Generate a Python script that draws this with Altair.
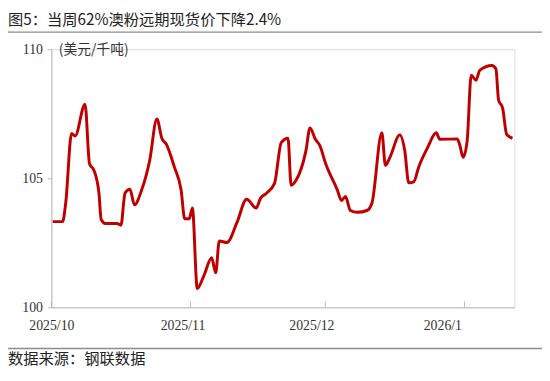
import altair as alt
import pandas as pd

# Day offsets from 2025-10-01 and price values (USD / kt)
day_offsets = [0.3, 2.5, 3.2, 4.5, 5.3, 7.5, 8.5, 9.5, 10.6, 11.1, 12.0, 14.6, 15.5,
               16.4, 17.5, 18.5, 20.1, 21.9, 23.5, 24.6, 25.6, 27.4, 28.9, 29.7, 30.7,
               31.4, 32.5, 34.0, 35.7, 36.6, 37.4, 39.1, 41.3, 43.5, 45.6, 46.6, 47.9,
               49.7, 51.2, 52.7, 53.4, 54.5, 56.7, 57.6, 58.8, 59.8, 61.1, 63.7, 64.6,
               65.5, 66.6, 68.1, 70.3, 71.4, 73.6, 74.4, 75.4, 77.6, 78.7, 79.6, 80.7,
               81.8, 83.8, 85.7, 86.5, 90.4, 91.0, 91.7, 92.6, 93.5, 94.6, 95.4, 98.1,
               99.0, 99.6, 100.5, 101.4, 102.7]
prices = [103.32, 103.32, 104.04, 106.73, 106.64, 107.87, 105.56, 105.30, 104.42, 103.40,
          103.25, 103.25, 103.18, 104.42, 104.57, 103.97, 104.54, 105.69, 107.30, 106.55,
          106.32, 105.43, 104.54, 103.43, 103.43, 103.85, 100.73, 101.24, 101.92, 101.34,
          102.57, 102.51, 103.27, 104.19, 103.85, 104.23, 104.42, 104.80, 106.38, 106.55,
          104.73, 104.92, 106.07, 106.95, 106.51, 106.26, 105.56, 104.54, 104.14, 104.29,
          103.75, 103.68, 103.75, 104.04, 106.76, 105.50, 105.81, 106.68, 106.07, 104.82,
          104.86, 105.43, 106.19, 106.76, 106.51, 106.52, 106.26, 105.81, 106.45, 108.99,
          108.80, 109.18, 109.37, 109.24, 108.03, 107.72, 106.70, 106.55]

# month-start tick marks, and where the month labels sit on the reference axis
tick_dates = ["2025-10-01", "2025-11-01", "2025-12-01", "2026-01-01"]
label_dates = [(2025, 10, 1, 0), (2025, 10, 30, 5), (2025, 11, 27, 22), (2025, 12, 27, 2)]
y_ticks = [100, 105, 110]

title_text = "图5：当周62%澳粉远期现货价下降2.4%"
source_text = "数据来源：钢联数据"
unit_text = "(美元/千吨)"

W, H = 470, 262
CJK = "Noto Sans CJK SC"
SERIF = "Liberation Serif"

df = pd.DataFrame({
    "date": pd.Timestamp("2025-10-01") + pd.to_timedelta(day_offsets, unit="D"),
    "price": prices,
})
ticks_df = pd.DataFrame({"date": pd.to_datetime(tick_dates)})

x_scale = alt.Scale(domain=[alt.DateTime(year=2025, month=10, date=1),
                            alt.DateTime(year=2026, month=1, date=12, hours=3)])
y_scale = alt.Scale(domain=[100, 110], nice=False, zero=False)

line = alt.Chart(df).mark_line(
    color="#C00000", strokeWidth=3, interpolate="monotone"
).encode(
    x=alt.X("date:T", scale=x_scale,
            axis=alt.Axis(values=[alt.DateTime(year=y, month=m, date=d, hours=h)
                                  for (y, m, d, h) in label_dates],
                          labelExpr="timeFormat(time(datum.value) + 691200000, '%Y/%-m')",
                          title=None, grid=False, ticks=False,
                          labelPadding=12, labelFont=SERIF, labelFontSize=14,
                          labelColor="#333333", domainColor="#BBBBBB",
                          labelFlush=False)),
    y=alt.Y("price:Q", scale=y_scale,
            axis=alt.Axis(values=y_ticks, grid=False, tickSize=4, tickColor="#BBBBBB",
                          domainColor="#BBBBBB", labelPadding=5, labelFont=SERIF,
                          labelFontSize=14, labelColor="#333333",
                          title=unit_text, titleAngle=0, titleAlign="left",
                          titleBaseline="middle", titleX=7, titleY=0,
                          titleFont=CJK, titleFontSize=14, titleFontWeight="normal",
                          titleColor="#333333")),
)

month_ticks = alt.Chart(ticks_df).mark_rule(color="#BBBBBB", strokeWidth=1).encode(
    x=alt.X("date:T", scale=x_scale),
    y=alt.value(H - 6),
    y2=alt.value(H),
)

one = pd.DataFrame({"k": [0]})
top_sep = alt.Chart(one).mark_rule(color="#8C8C8C", strokeWidth=1.5).encode(
    x=alt.value(-44), x2=alt.value(W + 28), y=alt.value(-17.3)
)
bottom_sep = alt.Chart(one).mark_rule(color="#8C8C8C", strokeWidth=1.5).encode(
    x=alt.value(-44), x2=alt.value(W + 28), y=alt.value(303.7)
)
title = alt.Chart(one).mark_text(
    align="left", baseline="middle", font=CJK, fontSize=15.5, color="#222222"
).encode(x=alt.value(-44), y=alt.value(-29.5), text=alt.value(title_text))
source = alt.Chart(one).mark_text(
    align="left", baseline="middle", font=CJK, fontSize=15.5, color="#222222"
).encode(x=alt.value(-44), y=alt.value(315), text=alt.value(source_text))

chart = alt.layer(line, month_ticks, top_sep, bottom_sep, title, source).properties(
    width=W, height=H,
    autosize=alt.AutoSizeParams(type="none"),
    padding={"left": 44, "top": 39, "right": 28, "bottom": 72},
).configure_view(stroke=None).configure(background="white")

chart.save("out.html", embed_options={"renderer": "svg", "actions": False})
